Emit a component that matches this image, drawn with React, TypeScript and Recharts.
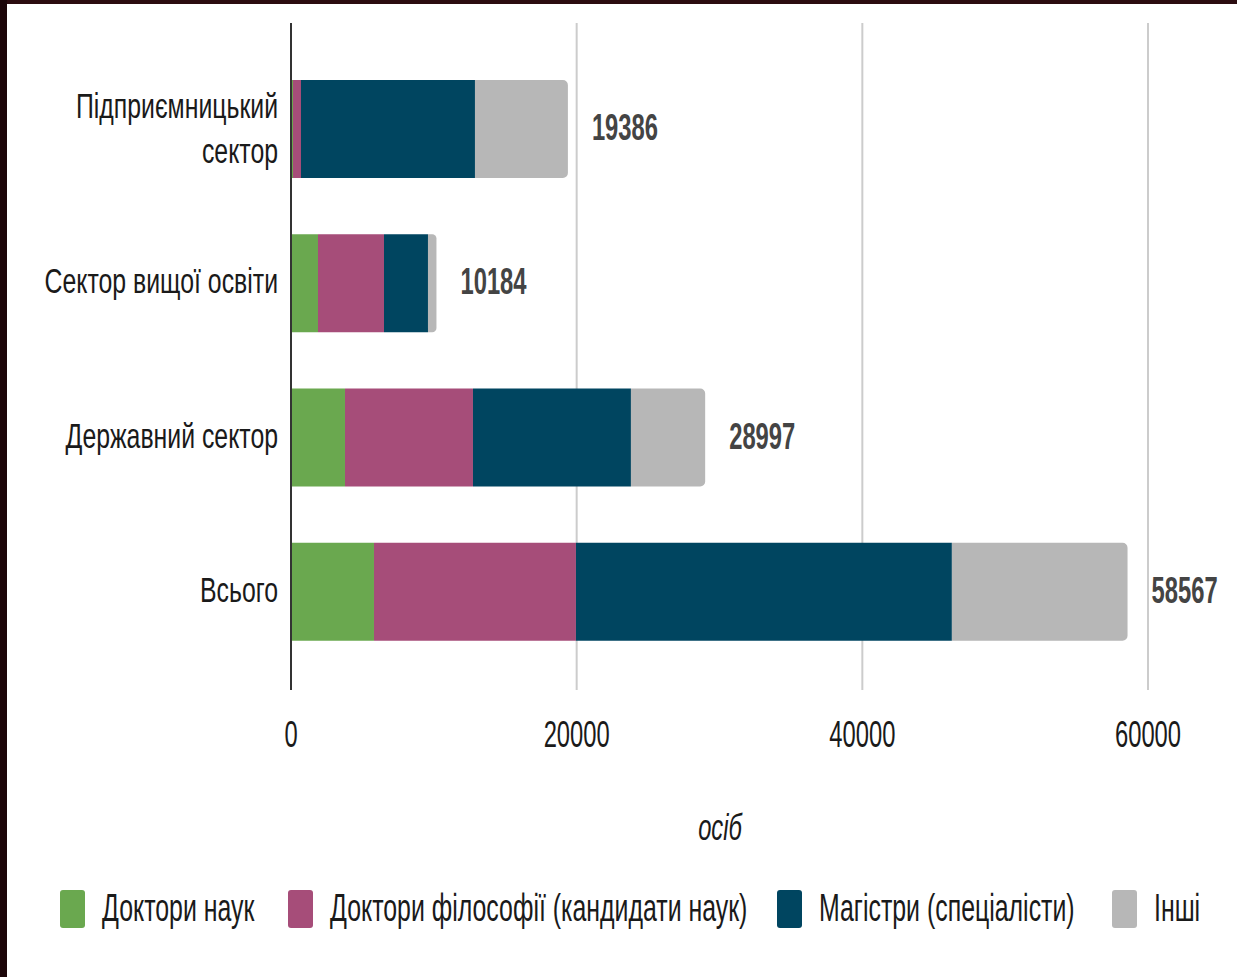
import React from 'react'
import { BarChart, Bar, XAxis, YAxis, CartesianGrid, LabelList } from 'recharts'

const categories = ['Підприємницький сектор', 'Сектор вищої освіти', 'Державний сектор', 'Всього']
const doctors = [140, 1890, 3780, 5810]
const phd = [560, 4620, 8960, 14140]
const masters = [12180, 3080, 11060, 26320]
const others = [6506, 594, 5197, 12297]
const totals = [19386, 10184, 28997, 58567]
const xTicks = [0, 20000, 40000, 60000]

const series = [
  { key: 'doctors', name: 'Доктори наук', color: '#6aa84f' },
  { key: 'phd', name: 'Доктори філософії (кандидати наук)', color: '#a64d79' },
  { key: 'masters', name: 'Магістри (спеціалісти)', color: '#004560' },
  { key: 'others', name: 'Інші', color: '#b7b7b7' },
]

const data = categories.map((name, i) => ({
  name,
  doctors: doctors[i],
  phd: phd[i],
  masters: masters[i],
  others: others[i],
  total: totals[i],
}))

const FONT = '"Liberation Sans", Arial, sans-serif'
const SQUEEZE = 0.66

// the source picture is squeezed sideways, so text gets scaled on x
const CategoryTick = ({ x, y, payload }: any) => {
  const words: string[] = payload.value === 'Підприємницький сектор'
    ? ['Підприємницький', 'сектор']
    : [payload.value]
  return (
    <g transform={`translate(${x - 13},${y}) scale(0.69,1)`}>
      {words.map((w, i) => (
        <text key={i} x={0} y={words.length > 1 ? -11 + i * 45 : 10}
          textAnchor="end" fontSize={36} fill="#1a1a1a" fontFamily={FONT}>
          {w}
        </text>
      ))}
    </g>
  )
}

const ValueTick = ({ x, y, payload }: any) => (
  <g transform={`translate(${x},${y}) scale(${SQUEEZE},1)`}>
    <text x={0} y={57} textAnchor="middle" fontSize={36} fill="#1a1a1a" fontFamily={FONT}>
      {payload.value}
    </text>
  </g>
)

const TotalLabel = ({ x, y, width, height, value }: any) => (
  <g transform={`translate(${x + width + 24},${y + height / 2}) scale(${SQUEEZE},1)`}>
    <text x={0} y={11} fontSize={36} fontWeight="bold" fill="#444444" fontFamily={FONT}>
      {value}
    </text>
  </g>
)

export default function App() {
  return (
    <div style={{ position: 'absolute', left: 0, top: 0, width: 1237, height: 977, background: '#ffffff', overflow: 'hidden' }}>
      <BarChart width={1237} height={977} data={data} layout="vertical"
        margin={{ top: 23, right: 89, left: 0, bottom: 227 }}>
        <CartesianGrid horizontal={false} vertical={true} stroke="#cccccc" strokeWidth={2} />
        <XAxis type="number" domain={[0, 60000]} ticks={xTicks} axisLine={false} tickLine={false}
          tickSize={0} tickMargin={0} height={60} tick={<ValueTick />} interval={0} />
        <YAxis type="category" dataKey="name" width={291} axisLine={{ stroke: '#333333', strokeWidth: 2 }}
          tickLine={false} tickSize={0} tickMargin={0} padding={{ top: 29, bottom: 21 }}
          tick={<CategoryTick />} interval={0} />
        {series.map((s, i) => (
          <Bar key={s.key} dataKey={s.key} name={s.name} stackId="a" fill={s.color} barSize={98}
            radius={i === series.length - 1 ? [0, 5, 5, 0] : 0} isAnimationActive={false}>
            {i === series.length - 1 && <LabelList dataKey="total" content={<TotalLabel />} />}
          </Bar>
        ))}
      </BarChart>

      <div style={{ position: 'absolute', left: 0, width: 1237, top: 790, textAlign: 'center' }}>
        <svg width={1237} height={60}>
          <g transform={`translate(720,50) scale(${SQUEEZE},1)`}>
            <text x={0} y={0} textAnchor="middle" fontSize={36} fontStyle="italic" fill="#1a1a1a" fontFamily={FONT}>осіб</text>
          </g>
        </svg>
      </div>

      <svg style={{ position: 'absolute', left: 0, top: 880 }} width={1237} height={60}>
        {series.map((s, i) => {
          const lx = [60, 288, 777, 1112][i]
          return (
            <g key={s.key}>
              <rect x={lx} y={10} width={25} height={38} rx={3} fill={s.color} />
              <g transform={`translate(${lx + 42},41) scale(0.655,1)`}>
                <text x={0} y={0} fontSize={38} fill="#1a1a1a" fontFamily={FONT}>{s.name}</text>
              </g>
            </g>
          )
        })}
      </svg>

      <div style={{ position: 'absolute', left: 0, top: 0, width: 1237, height: 4, background: '#2b0c10' }} />
      <div style={{ position: 'absolute', left: 0, top: 0, width: 7, height: 977, background: '#1c0609' }} />
    </div>
  )
}
